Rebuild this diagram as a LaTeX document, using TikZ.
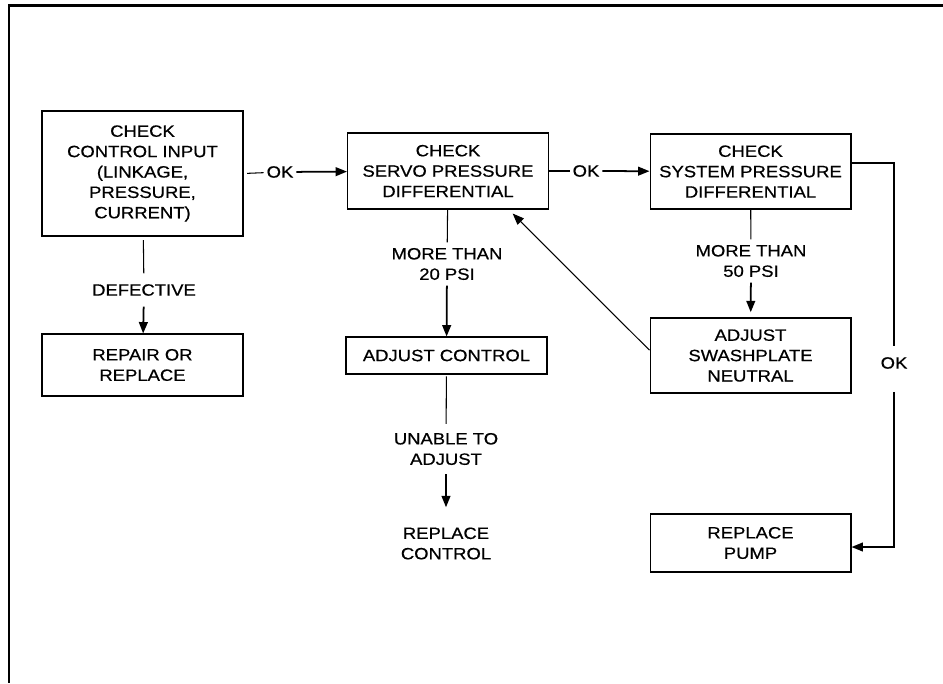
\documentclass[tikz,border=0pt]{standalone}
\usepackage{fontspec}
\setmainfont{Liberation Sans}[FakeStretch=1.13,FakeBold=0.6]
\usetikzlibrary{arrows.meta,positioning,calc}

\begin{document}
\begin{tikzpicture}[x=0.02cm,y=-0.02cm,
  font=\fontsize{9.3}{11.6}\selectfont,
  box/.style={draw,line width=0.6pt,minimum width=4.02cm,align=center,inner sep=0pt},
  lbl/.style={align=center,inner xsep=1.5pt,inner ysep=3pt},
  wire/.style={line width=0.6pt},
  flow/.style={line width=1pt,-{Triangle[length=6.5pt,width=5pt]}},
  back/.style={line width=0.6pt,-{Triangle[length=6.5pt,width=5pt]}}]
  \useasboundingbox (0,0) rectangle (943,683);
  % frame, open to the right and bottom
  \draw[line width=1.5pt] (943,5.5) -- (9,5.5) -- (9,683);

  % boxes
  \node[box,minimum height=2.5cm]  (input)  at (142.5,173.5) {CHECK\\CONTROL INPUT\\(LINKAGE,\\PRESSURE,\\CURRENT)};
  \node[box,minimum height=1.24cm] (repair) at (142.5,365)   {REPAIR OR\\REPLACE};
  \node[box,minimum height=1.52cm] (servo)  at (448,171)     {CHECK\\SERVO PRESSURE\\DIFFERENTIAL};
  \node[box,minimum height=0.74cm] (adjctl) at (446.5,355.5) {ADJUST CONTROL};
  \node[box,minimum height=1.5cm]  (system) at (750.5,171.5) {CHECK\\SYSTEM PRESSURE\\DIFFERENTIAL};
  \node[box,minimum height=1.5cm]  (swash)  at (750.5,355.5) {ADJUST\\SWASHPLATE\\NEUTRAL};
  \node[box,minimum height=1.16cm] (pump)   at (750.5,543)   {REPLACE\\PUMP};
  \node[align=center] (repctl) at (446,543.5) {REPLACE\\CONTROL};

  % branch labels
  \node[lbl,inner ysep=6pt] (defect) at (144,290) {DEFECTIVE};
  \node[lbl] (okA)    at (280,172)   {OK};
  \node[lbl] (okB)    at (586,171)   {OK};
  \node[lbl] (more20) at (447,264)   {MORE THAN\\20 PSI};
  \node[lbl] (more50) at (751,261)   {MORE THAN\\50 PSI};
  \node[lbl,inner ysep=5pt] (unable) at (446,449) {UNABLE TO\\ADJUST};
  \node[lbl,inner ysep=6pt] (okC)    at (894,363)   {OK};
  \coordinate (rtop) at (894,163);
  \coordinate (rbot) at (894,547);

  % connectors
  \draw[wire,shorten <=2pt] (input) -- (defect);
  \draw[flow] (defect) -- (repair);
  \draw[wire,shorten <=2pt] (input.east) -- (okA);
  \draw[flow] (okA) -- (servo);
  \draw[wire] (servo.east) -- (okB);
  \draw[flow] (okB) -- (system);
  \draw[wire] (servo) -- (more20);
  \draw[flow] (more20) -- (adjctl);
  \draw[wire,shorten <=1pt] (adjctl) -- (unable);
  \draw[flow,shorten >=8pt] (unable) -- (repctl);
  \draw[wire] (system) -- (more50);
  \draw[flow,shorten >=3pt] (more50) -- (swash);
  \draw[back] ([yshift=3pt]swash.west) -- ($(servo.south)!0.64!(servo.south east)+(0,4)$);
  \draw[wire] (system.east |- rtop) -- (rtop) -- (okC);
  \draw[flow,shorten <=7pt] (okC) -- (rbot) -- (pump.east |- rbot);
\end{tikzpicture}
\end{document}
